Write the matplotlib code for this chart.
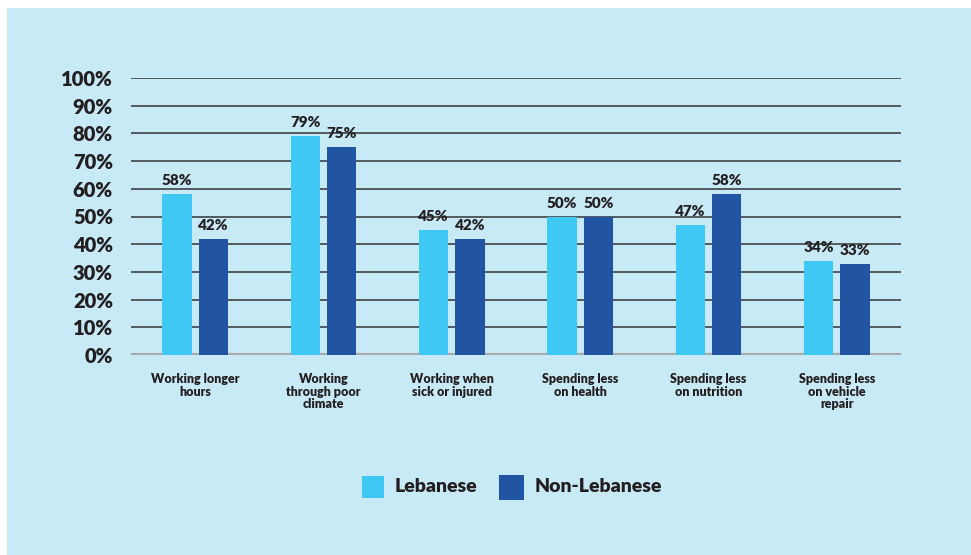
import matplotlib
matplotlib.use("Agg")
import matplotlib.pyplot as plt
from matplotlib.patches import Rectangle
import numpy as np

categories = ["Working longer\nhours", "Working\nthrough poor\nclimate", "Working when\nsick or injured",
              "Spending less\non health", "Spending less\non nutrition", "Spending less\non vehicle\nrepair"]
lebanese = [58, 79, 45, 50, 47, 34]
non_lebanese = [42, 75, 42, 50, 58, 33]
series_names = ["Lebanese", "Non-Lebanese"]
yticks = [0, 10, 20, 30, 40, 50, 60, 70, 80, 90, 100]
ytick_labels = [f"{v}%" for v in yticks]

W, H = 971, 555
bg = "#C8EAF6"
c_leb = "#40C8F4"
c_non = "#2254A4"
txt = "#231F20"
font = ["Lato", "DejaVu Sans"]
wt = "heavy"

fig = plt.figure(figsize=(W / 100, H / 100), dpi=100)
fig.patch.set_facecolor("white")
fig.patches.append(Rectangle((7 / W, 0), 1 - 7 / W, 1 - 8 / H, transform=fig.transFigure,
                             facecolor=bg, edgecolor="none", zorder=-5))

left, right = 131 / W, 901 / W
bottom, top = 1 - 355 / H, 1 - 78 / H
ax = fig.add_axes([left, bottom, right - left, top - bottom])
ax.set_facecolor("none")

x = np.arange(len(categories))
bw = 0.228
off = 0.142
b1 = ax.bar(x - off, lebanese, bw, color=c_leb, zorder=3, label=series_names[0])
b2 = ax.bar(x + off, non_lebanese, bw, color=c_non, zorder=3, label=series_names[1])

for bars, vals in ((b1, lebanese), (b2, non_lebanese)):
    for b, v in zip(bars, vals):
        ax.text(b.get_x() + b.get_width() / 2, v + 2.5, f"{v}%", ha="center", va="bottom",
                fontsize=11, fontweight=wt, color=txt, family=font, zorder=4)

ax.set_xlim(-0.5, len(categories) - 0.5)
ax.set_ylim(0, 100)
ax.set_yticks(yticks)
ax.set_yticklabels(ytick_labels, fontsize=14.5, fontweight=wt, color=txt, family=font)
for v in yticks[1:]:
    ax.axhline(v, color="#333333", lw=1.1, zorder=1)
ax.axhline(0, color="#A7A9AC", lw=3, zorder=2)
ax.tick_params(axis="y", length=0, pad=13)
ax.tick_params(axis="x", length=0, pad=13)
ax.set_xticks(x)
ax.set_xticklabels(categories, fontsize=9, fontweight=wt, color=txt, family=font,
                   va="top", linespacing=1.05)
for s in ax.spines.values():
    s.set_visible(False)

# legend
ly = 1 - 487 / H
fig.patches.append(Rectangle((362 / W, 1 - 498 / H), 22 / W, 22 / H, transform=fig.transFigure,
                             facecolor=c_leb, edgecolor="none"))
fig.text(395 / W, ly, series_names[0], fontsize=14, fontweight=wt, color=txt, family=font,
         va="center", ha="left")
fig.patches.append(Rectangle((499 / W, 1 - 500 / H), 25 / W, 25 / H, transform=fig.transFigure,
                             facecolor=c_non, edgecolor="none"))
fig.text(535 / W, ly, series_names[1], fontsize=14, fontweight=wt, color=txt, family=font,
         va="center", ha="left")

fig.savefig("out.png", dpi=100, facecolor=fig.get_facecolor())
